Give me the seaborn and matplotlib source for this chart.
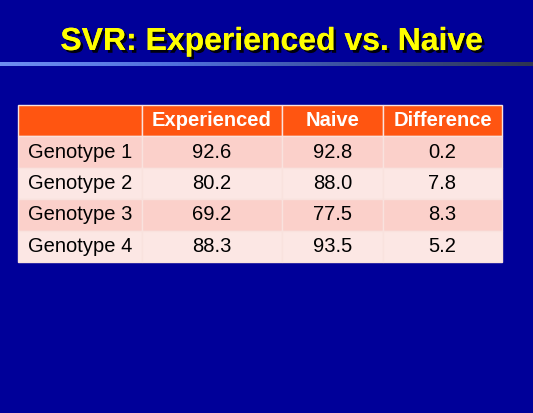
import matplotlib
matplotlib.use("Agg")
import matplotlib.pyplot as plt
import matplotlib.patheffects as pe
from matplotlib.colors import LinearSegmentedColormap
import seaborn as sns
import numpy as np

# Datos de la tabla
titulo = "SVR: Experienced vs. Naive"
columnas = ["", "Experienced", "Naive", "Difference"]
genotipos = ["Genotype 1", "Genotype 2", "Genotype 3", "Genotype 4"]
experienced = [92.6, 80.2, 69.2, 88.3]
naive = [92.8, 88.0, 77.5, 93.5]
difference = [0.2, 7.8, 8.3, 5.2]

sns.set_theme(style="white")
plt.rcParams["font.family"] = ["Liberation Sans", "DejaVu Sans"]

W, H = 533, 413
fondo = "#000099"
fig = plt.figure(figsize=(W / 100, H / 100), dpi=100, facecolor=fondo)

# Titulo con sombra
fig.text(272 / W, 1 - 50 / H, titulo, ha="center", va="baseline", color="#ffff00",
         fontsize=23, fontweight="bold",
         path_effects=[pe.withSimplePatchShadow(offset=(2, -2), shadow_rgbFace="black", alpha=0.9),
                       pe.Normal()])

# Linea con degradado bajo el titulo
ax_linea = fig.add_axes([0, 1 - 66 / H, 1, 4 / H])
cmap_linea = LinearSegmentedColormap.from_list("linea", ["#6e8ff2", "#4f6fdc", "#3a4f9c", "#2e3550"])
ax_linea.imshow(np.linspace(0, 1, 256).reshape(1, -1), aspect="auto", cmap=cmap_linea)
ax_linea.axis("off")

# Tabla
ax = fig.add_axes([18 / W, 1 - 262 / H, (502 - 18) / W, (262 - 105) / H])
ax.axis("off")
filas = [[g, f"{e:.1f}", f"{n:.1f}", f"{d:.1f}"]
         for g, e, n, d in zip(genotipos, experienced, naive, difference)]
anchos = np.array([124, 140, 101, 119], dtype=float)
tabla = ax.table(cellText=filas, colLabels=columnas, colWidths=list(anchos / anchos.sum()),
                 bbox=[0, 0, 1, 1], cellLoc="center")
tabla.auto_set_font_size(False)
colores_fila = ["#fbd0ca", "#fce7e4"]
for (r, c), celda in tabla.get_celld().items():
    celda.set_edgecolor("#f9e2de")
    celda.set_linewidth(1)
    txt = celda.get_text()
    txt.set_fontsize(14.5)
    if r == 0:
        celda.set_facecolor("#ff5511")
        txt.set_color("white")
        txt.set_fontweight("bold")
    else:
        celda.set_facecolor(colores_fila[(r - 1) % 2])
        txt.set_color("black")
        if c == 0:
            txt.set_ha("left")
            celda.PAD = 0.08

fig.savefig("out.png", dpi=100, facecolor=fondo)
